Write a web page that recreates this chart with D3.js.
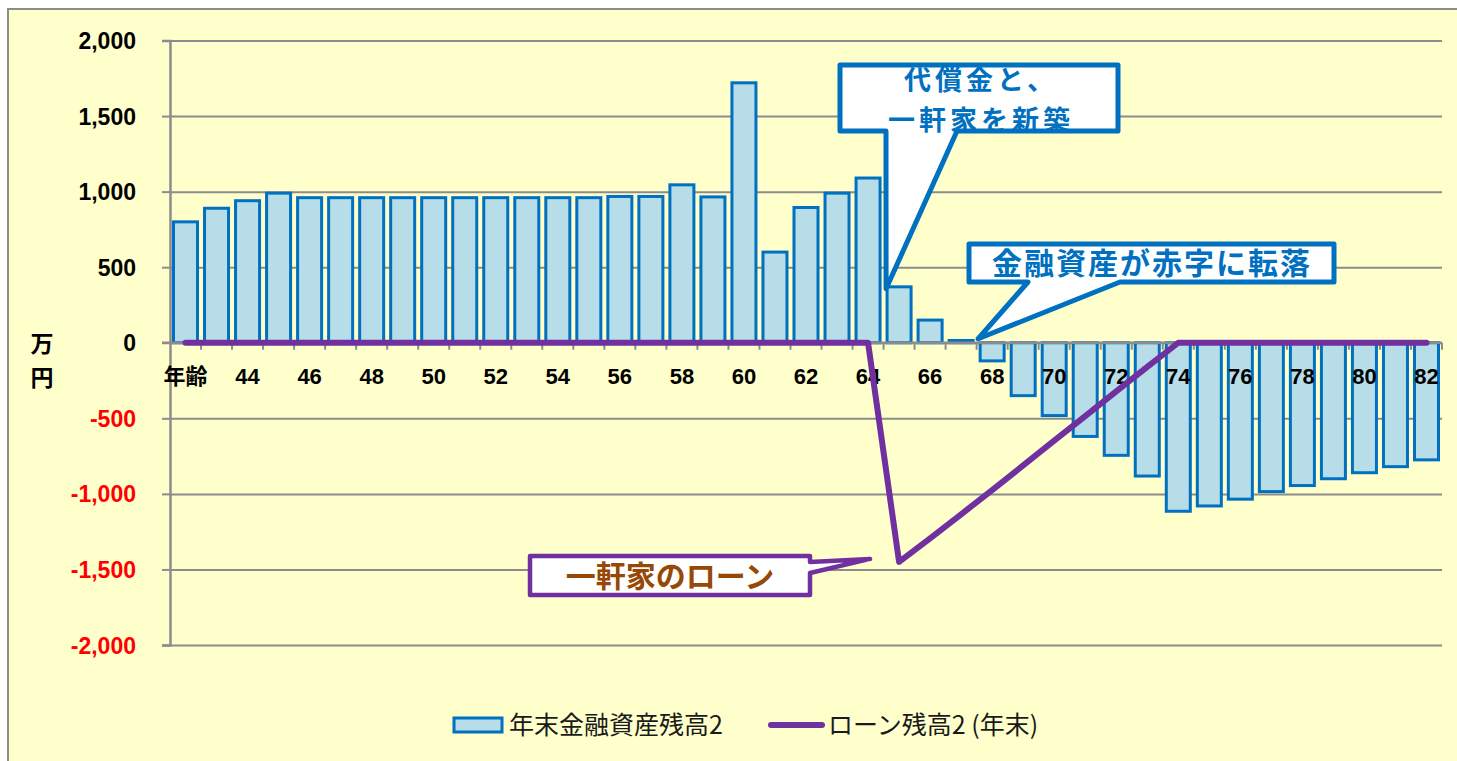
<!DOCTYPE html>
<html><head><meta charset="utf-8">
<script src="https://cdn.jsdelivr.net/npm/d3@7"></script>
<style>body{margin:0;background:#fff;} svg{display:block;}</style>
</head><body><svg id="c" width="1457" height="761"></svg>
<script>
// ---- data ----
const ages = [42,43,44,45,46,47,48,49,50,51,52,53,54,55,56,57,58,59,60,61,62,63,64,65,66,67,68,69,70,71,72,73,74,75,76,77,78,79,80,81,82];
const assets = [800,890,940,990,960,960,960,960,960,960,960,960,960,960,968,968,1045,965,1720,600,895,990,1090,370,150,15,-120,-350,-482,-620,-745,-882,-1115,-1080,-1035,-985,-945,-900,-860,-820,-775];
const loan = [0,0,0,0,0,0,0,0,0,0,0,0,0,0,0,0,0,0,0,0,0,0,0,-1450,-1295,-1135,-975,-812,-648,-485,-322,-160,0,0,0,0,0,0,0,0,0];
const yTicks = [-2000,-1500,-1000,-500,0,500,1000,1500,2000];
const xLabelAges = [42,44,46,48,50,52,54,56,58,60,62,64,66,68,70,72,74,76,78,80,82];
const firstAgeLabel = "年齢";
const yTitle = ["万","円"];
const seriesNames = ["年末金融資産残高2","ローン残高2 (年末)"];
const callout1 = ["代償金と、","一軒家を新築"];
const callout2 = "金融資産が赤字に転落";
const callout3 = "一軒家のローン";

// ---- layout ----
const svg = d3.select("#c");
const numFont = "'Liberation Sans', Arial, sans-serif";
const jpFont = "'Noto Sans CJK JP', 'Noto Sans', sans-serif";
const BLUE = "#0070C0", FILL = "#B7DDE8", PURPLE = "#7030A0", GRID = "#8c8c8c";

svg.append("rect").attr("x",8).attr("y",9).attr("width",1500).attr("height",800)
  .attr("fill","#FFFFCC").attr("stroke",GRID).attr("stroke-width",2);

const x = d3.scaleBand().domain(ages).range([170,1442]).paddingInner(0.226).paddingOuter(0.113);
const y = d3.scaleLinear().domain([-2000,2000]).range([645,40.5]);
const bw = x.bandwidth();
const fmt = d => d < 0 ? "-" + d3.format(",")(-d) : d3.format(",")(d);

// gridlines
const grid = svg.append("g").attr("transform","translate(170,0)")
  .call(d3.axisLeft(y).tickValues(yTicks).tickSize(-1272).tickFormat(""));
grid.select(".domain").remove();
grid.selectAll("line").attr("stroke",GRID).attr("stroke-width",2);

// bars
svg.append("g").selectAll("rect").data(ages).join("rect")
  .attr("x", a => x(a))
  .attr("width", bw)
  .attr("y", (a,i) => Math.min(y(assets[i]), y(0)))
  .attr("height", (a,i) => Math.abs(y(assets[i]) - y(0)))
  .attr("fill", FILL).attr("stroke", BLUE).attr("stroke-width", 3);

// y axis
const ya = svg.append("g").attr("transform","translate(170,0)")
  .call(d3.axisLeft(y).tickValues(yTicks).tickSize(8).tickPadding(26).tickFormat(fmt));
ya.select(".domain").attr("stroke",GRID).attr("stroke-width",2.5);
ya.selectAll("line").attr("stroke",GRID).attr("stroke-width",2);
ya.selectAll("text").attr("font-family",numFont).attr("font-weight","bold").attr("font-size",23)
  .attr("fill", d => d < 0 ? "#FF0000" : "#000").attr("dy","0.35em");

// x axis line and boundary ticks
const y0 = y(0);
const gap = (x.step() - bw) / 2;
svg.append("line").attr("x1",162).attr("x2",1442).attr("y1",y0).attr("y2",y0)
  .attr("stroke",GRID).attr("stroke-width",2.5);
const bounds = ages.map(a => x(a) + bw + gap);
svg.append("g").selectAll("line").data(bounds).join("line")
  .attr("x1", d => d).attr("x2", d => d).attr("y1", y0).attr("y2", y0 + 7)
  .attr("stroke", GRID).attr("stroke-width", 2);

// x labels via axis
const xa = svg.append("g").attr("transform",`translate(0,${y0})`)
  .call(d3.axisBottom(x).tickValues(xLabelAges).tickSize(0)
    .tickFormat(a => a === ages[0] ? firstAgeLabel : String(a)));
xa.select(".domain").remove();
xa.selectAll("text").attr("y",34).attr("dy","0.35em").attr("font-weight","bold")
  .attr("font-size",22).attr("fill","#000")
  .attr("font-family", a => a === ages[0] ? jpFont : numFont);

// y title
svg.append("g").selectAll("text").data(yTitle).join("text")
  .attr("x",42).attr("y",(d,i)=>344 + i*34).attr("dy","0.35em").attr("text-anchor","middle")
  .attr("font-family",jpFont).attr("font-weight","bold").attr("font-size",23).attr("fill","#000")
  .text(d=>d);

// loan line
const line = d3.line().x((v,i) => x(ages[i]) + bw/2).y(v => y(v));
svg.append("path").datum(loan).attr("d", line).attr("fill","none")
  .attr("stroke", PURPLE).attr("stroke-width", 6).attr("stroke-linecap","round").attr("stroke-linejoin","round");

// ---- callouts ----
function callout(path, stroke, sw) {
  svg.append("path").attr("d", path).attr("fill","#fff").attr("stroke",stroke)
    .attr("stroke-width",sw).attr("stroke-linejoin","round");
}
// callout 1 (pointer to age 65 bar)
const tip1 = [x(65) - 1, y(assets[23]) + 2];
callout(`M840,65 L1118,65 L1118,131 L957,131 L${tip1[0]},${tip1[1]} L886,131 L840,131 Z`, BLUE, 5);
svg.append("g").selectAll("text").data(callout1).join("text")
  .attr("x",979).attr("y",(d,i)=>81 + i*40).attr("dy","0.35em").attr("text-anchor","middle")
  .attr("font-family",jpFont).attr("font-weight","bold").attr("font-size",27).attr("fill",BLUE)
  .attr("textLength",(d,i)=> i === 0 ? 150 : 182).text(d=>d);

// callout 2 (pointer to age 68 boundary)
const tip2 = [x(68) - 2, y0 - 4];
callout(`M969,244 L1334,244 L1334,282 L1120,282 L${tip2[0]},${tip2[1]} L1028,282 L969,282 Z`, BLUE, 5);
svg.append("text").attr("x",1151).attr("y",263).attr("dy","0.35em").attr("text-anchor","middle")
  .attr("font-family",jpFont).attr("font-weight","bold").attr("font-size",30).attr("fill",BLUE)
  .attr("textLength",318).text(callout2);

// callout 3 (loan)
const tip3 = [x(65) - 17, y(-1450) - 3];
callout(`M530,556 L810,556 L810,562 L${tip3[0]},${tip3[1]} L810,573 L810,595 L530,595 Z`, PURPLE, 4.5);
svg.append("text").attr("x",670).attr("y",576).attr("dy","0.35em").attr("text-anchor","middle")
  .attr("font-family",jpFont).attr("font-weight","bold").attr("font-size",30).attr("fill","#974706")
  .text(callout3);

// ---- legend ----
const lg = svg.append("g");
lg.append("rect").attr("x",454).attr("y",718).attr("width",48).attr("height",14)
  .attr("fill",FILL).attr("stroke",BLUE).attr("stroke-width",3);
lg.append("text").attr("x",509).attr("y",725).attr("dy","0.35em")
  .attr("font-family",jpFont).attr("font-size",25).attr("fill","#1a1a1a").text(seriesNames[0]);
lg.append("line").attr("x1",771).attr("x2",822).attr("y1",725).attr("y2",725)
  .attr("stroke",PURPLE).attr("stroke-width",6).attr("stroke-linecap","round");
lg.append("text").attr("x",828).attr("y",725).attr("dy","0.35em")
  .attr("font-family",jpFont).attr("font-size",25).attr("fill","#1a1a1a").text(seriesNames[1]);
</script></body></html>
